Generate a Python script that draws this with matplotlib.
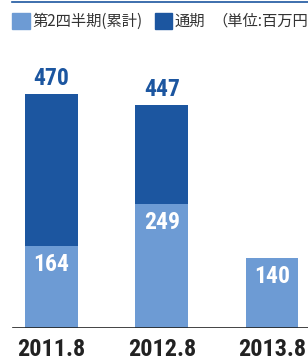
import matplotlib.pyplot as plt
from matplotlib.patches import Rectangle
from matplotlib.lines import Line2D

# данные
periods = ['2011.8', '2012.8', '2013.8']
q2_total = [164, 249, 140]      # 第2四半期(累計)
full_year = [470, 447, None]    # 通期

light = '#6d9bd4'
dark = '#1c56a0'
W, H = 308, 356

fig = plt.figure(figsize=(W / 100, H / 100), dpi=100)
ax = fig.add_axes([0, (H - 328) / H, 1, (328 - 40) / H])

x = list(range(len(periods)))
fy = [v if v is not None else 0 for v in full_year]
ax.bar(x, fy, width=0.48, color=dark, zorder=2)
ax.bar(x, q2_total, width=0.48, color=light, zorder=3)

num_font = ['Roboto Condensed', 'DejaVu Sans']
for i, v in enumerate(full_year):
    if v is None:
        continue
    ax.annotate(str(v), (i, v), xytext=(0, 3), textcoords='offset points',
                ha='center', va='bottom', fontsize=17, fontweight='bold',
                color=dark, family=num_font)
for i, v in enumerate(q2_total):
    ax.annotate(str(v), (i, v), xytext=(0, -13), textcoords='offset points',
                ha='center', va='center', fontsize=17, fontweight='bold',
                color='white', family=num_font, zorder=4)

ax.set_xlim(-51.5 / 110.25, 2 + 36 / 110.25)
ax.set_ylim(0, (328 - 40) / 0.498)
for s in ax.spines.values():
    s.set_visible(False)
ax.set_yticks([])
ax.set_xticks(x)
ax.set_xticklabels(periods, fontsize=17.5, fontweight='bold', color='#222222',
                   family=num_font)
ax.tick_params(axis='x', length=0, pad=7)
ax.axhline(0, xmin=13 / W, xmax=1, color='#222222', lw=1.2, zorder=5)

# верхняя линия и легенда
fig.add_artist(Line2D([12 / W, 1], [1 - 2 / H, 1 - 2 / H], color=dark, lw=1.2))
fig.add_artist(Rectangle((12 / W, 1 - 29 / H), 18 / W, 16 / H, color=light))
fig.add_artist(Rectangle((155 / W, 1 - 29 / H), 17 / W, 16 / H, color=dark))
jp = ['Noto Sans CJK JP', 'DejaVu Sans']
fig.text(32 / W, 1 - 21 / H, '第2四半期(累計)', fontsize=11, va='center',
         color='#333333', family=jp)
fig.text(175 / W, 1 - 21 / H, '通期', fontsize=11, va='center',
         color='#333333', family=jp)
fig.text(212 / W, 1 - 21 / H, '（単位:百万円）', fontsize=11, va='center',
         color='#333333', family=jp)

fig.savefig('out.png', dpi=100)
